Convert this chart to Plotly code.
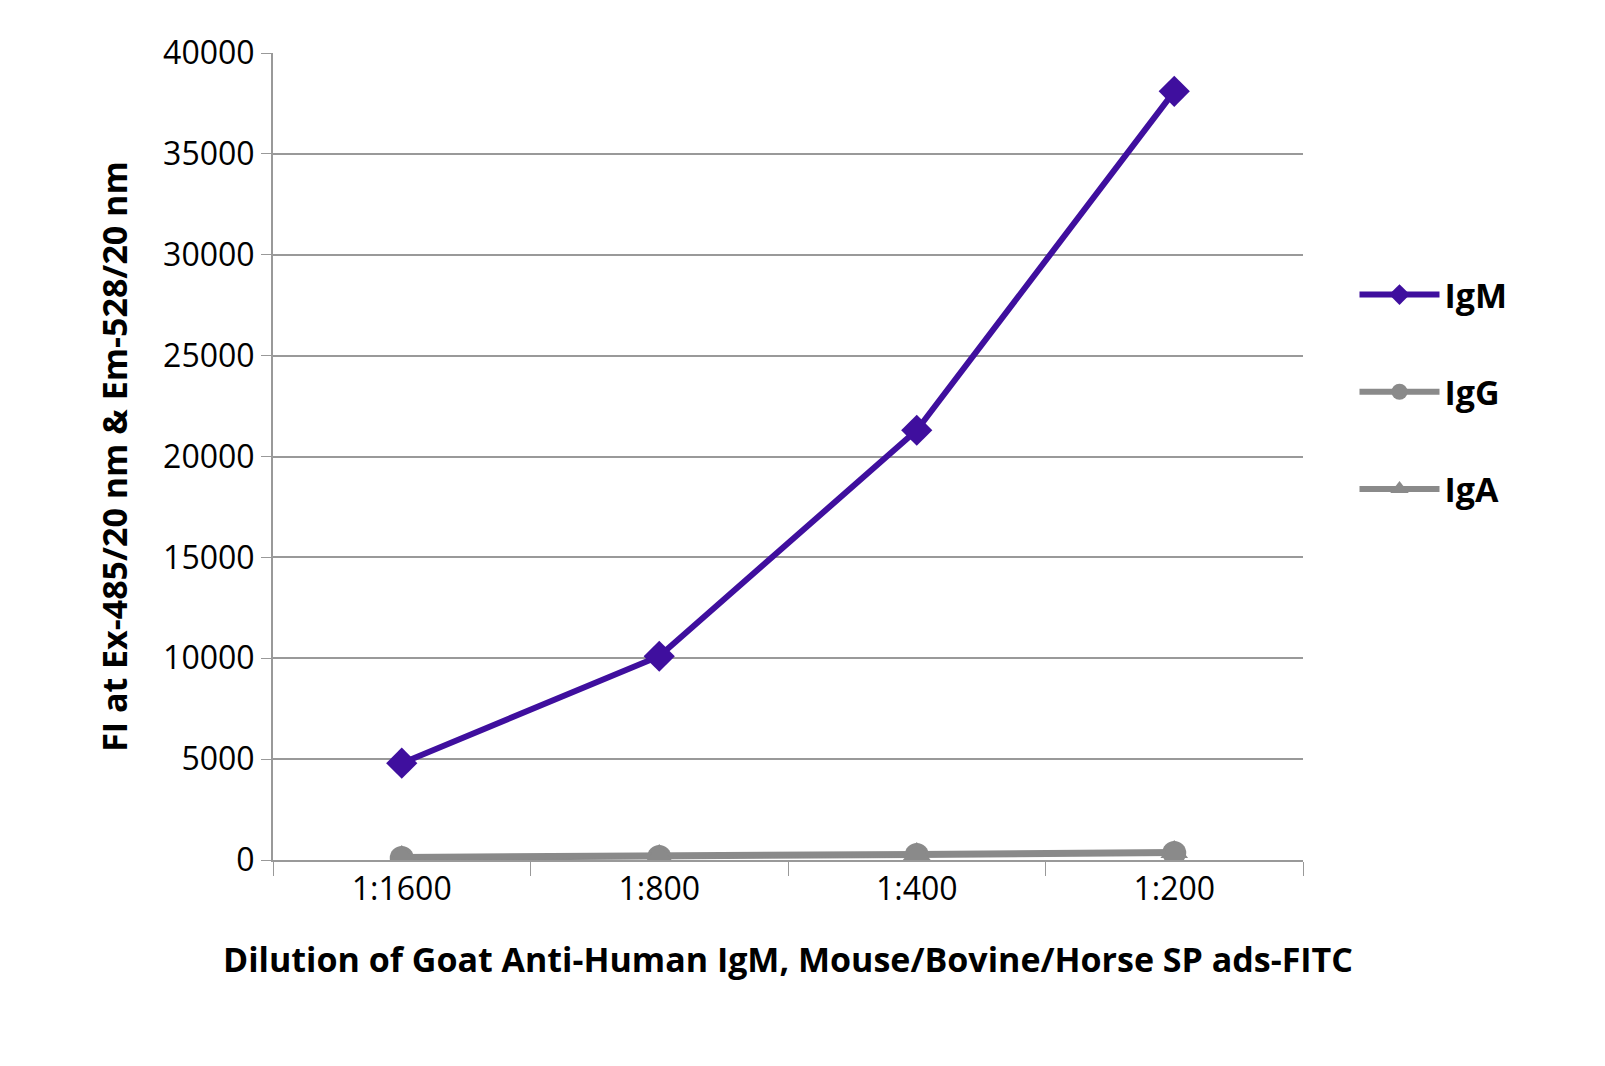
import plotly.graph_objects as go

dilutions = ["1:1600", "1:800", "1:400", "1:200"]
igm = [4800, 10100, 21300, 38100]
igg = [100, 150, 250, 350]
iga = [150, 200, 300, 400]

fig = go.Figure()
fig.add_trace(go.Scatter(x=dilutions, y=igm, name="<b>IgM</b>", mode="lines+markers", legendgroup="a",
                         line=dict(color="#3f0f9e", width=6),
                         marker=dict(symbol="diamond", size=24, color="#3f0f9e")))
fig.add_trace(go.Scatter(x=dilutions, y=igg, name="<b>IgG</b>", mode="lines+markers", legendgroup="b",
                         line=dict(color="#8a8a8a", width=6),
                         marker=dict(symbol="circle", size=24, color="#8a8a8a")))
fig.add_trace(go.Scatter(x=dilutions, y=iga, name="<b>IgA</b>", mode="lines+markers", legendgroup="c",
                         line=dict(color="#8a8a8a", width=6),
                         marker=dict(symbol="triangle-up", size=24, color="#8a8a8a")))

fig.update_layout(
    width=1605, height=1066,
    margin=dict(l=265, r=310, t=45, b=214),
    plot_bgcolor="white", paper_bgcolor="white",
    font=dict(family="Open Sans", size=32, color="black"),
    legend=dict(x=1.05, y=0.58, yanchor="middle", font=dict(size=34, family="Open Sans"),
                tracegroupgap=50, itemwidth=80),
    showlegend=True,
)
fig.update_xaxes(type="category", range=[-0.5, 3.5], tickson="boundaries",
                 ticks="outside", ticklen=14, tickcolor="#999", showline=True,
                 linecolor="#999", linewidth=2, showgrid=False,
                 title=dict(text="<b>Dilution of Goat Anti-Human IgM, Mouse/Bovine/Horse SP ads-FITC</b>",
                            font=dict(size=34), standoff=40))
fig.update_yaxes(range=[0, 40000], dtick=5000, tickformat="d", showgrid=True, gridcolor="#999",
                 gridwidth=2, showline=True, linecolor="#999", linewidth=2,
                 ticks="outside", ticklen=10, tickcolor="#999", zeroline=False,
                 title=dict(text="<b>FI at Ex-485/20 nm & Em-528/20 nm</b>",
                            font=dict(size=34), standoff=25))

fig.write_html("out.html")
